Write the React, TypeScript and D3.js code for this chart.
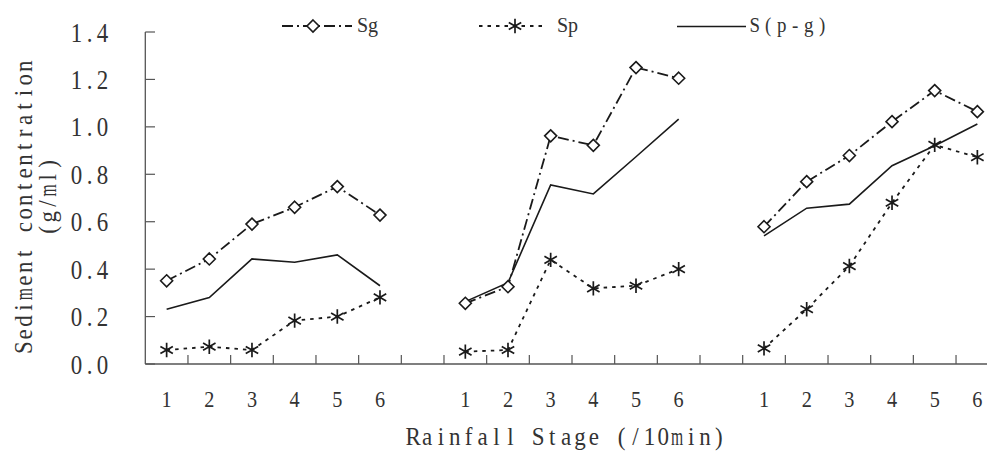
import React from "react";
import * as d3 from "d3";

const stages = ["1", "2", "3", "4", "5", "6"];
const groups = [0, 1, 2];
const yTicks = [0, 0.2, 0.4, 0.6, 0.8, 1.0, 1.2, 1.4];

const sgValues = [
  [0.351, 0.443, 0.59, 0.661, 0.748, 0.628],
  [0.256, 0.326, 0.962, 0.922, 1.25, 1.205],
  [0.579, 0.769, 0.879, 1.022, 1.153, 1.064],
];
const spValues = [
  [0.059, 0.073, 0.059, 0.183, 0.2, 0.281],
  [0.052, 0.059, 0.439, 0.319, 0.33, 0.4],
  [0.066, 0.231, 0.413, 0.68, 0.924, 0.872],
];
const sValues = [
  [0.231, 0.28, 0.443, 0.429, 0.46, 0.33],
  [0.263, 0.343, 0.755, 0.717, 0.874, 1.033],
  [0.54, 0.657, 0.674, 0.836, 0.92, 1.012],
];

const seriesNames = ["Sg", "Sp", "S(p-g)"];
const xTitle = "Rainfall Stage (/10min)";
const yTitle1 = "Sediment contentration";
const yTitle2 = "(g/ml)";

const W = 987;
const H = 459;
const slots = d3.range(20).map(String);
const x = d3.scaleBand<string>().domain(slots).range([145.3, 998.7]).padding(0);
const y = d3.scaleLinear().domain([0, 1.4]).range([364, 32]);

const slotOf = (g: number, i: number) => String(g * 7 + i);
const cx = (g: number, i: number) => (x(slotOf(g, i)) as number) + x.bandwidth() / 2;

const line = d3
  .line<[number, number]>()
  .x((d) => d[0])
  .y((d) => d[1]);

const INK = "#1a1a1a";
const AXIS = "#555";
const TXT = "#333";
const SERIF = "'Liberation Serif', 'DejaVu Serif', serif";

const WIDE = new Set(["m", "w", "M", "W"]);

// monospaced "half-width" layout of serif glyphs
function MonoText({
  text,
  x0,
  y0,
  pitch,
  fontSize,
  sx = 0.9,
  anchor = "middle",
  rotate = 0,
}: {
  text: string;
  x0: number;
  y0: number;
  pitch: number;
  fontSize: number;
  sx?: number;
  anchor?: "start" | "middle" | "end";
  rotate?: number;
}) {
  const chars = Array.from(text);
  const total = chars.length * pitch;
  const start = anchor === "middle" ? -total / 2 : anchor === "end" ? -total : 0;
  return (
    <g transform={`translate(${x0},${y0}) rotate(${rotate})`}>
      {chars.map((ch, i) =>
        ch === " " ? null : (
          <text
            key={i}
            transform={`translate(${start + (i + 0.5) * pitch},0) scale(${WIDE.has(ch) ? sx * 0.68 : sx},1)`}
            textAnchor="middle"
            fontFamily={SERIF}
            fontSize={fontSize}
            fill={TXT}
          >
            {ch}
          </text>
        )
      )}
    </g>
  );
}

function Diamond({ px, py }: { px: number; py: number }) {
  const r = 6;
  return (
    <path
      d={`M${px},${py - r}L${px + r},${py}L${px},${py + r}L${px - r},${py}Z`}
      fill="#fff"
      stroke={INK}
      strokeWidth={1.6}
    />
  );
}

function Star({ px, py }: { px: number; py: number }) {
  const r = 7.2;
  const a = r * Math.cos(Math.PI / 6);
  const b = r * Math.sin(Math.PI / 6);
  return (
    <path
      d={`M${px},${py - r}L${px},${py + r}M${px - a},${py - b}L${px + a},${py + b}M${px - a},${py + b}L${px + a},${py - b}`}
      stroke={INK}
      strokeWidth={1.7}
      fill="none"
    />
  );
}

const SG_DASH = "11,4,2,4";
const SP_DASH = "3.5,5";

export default function App() {
  const boundaries = d3.range(1, 21).map((k) => 145.3 + k * x.step());
  return (
    <svg
      width={W}
      height={H}
      style={{ position: "absolute", left: 0, top: 0, background: "#fff" }}
    >
      <rect x={0} y={0} width={W} height={H} fill="#fff" />
      {/* axes */}
      <line x1={145.3} x2={145.3} y1={y(1.4)} y2={y(0)} stroke={AXIS} strokeWidth={1.3} />
      <line x1={145.3} x2={999} y1={y(0)} y2={y(0)} stroke={AXIS} strokeWidth={1.3} />
      {yTicks.map((t) => (
        <g key={t}>
          <line x1={145.3} x2={155} y1={y(t)} y2={y(t)} stroke={AXIS} strokeWidth={1.2} />
          <MonoText
            text={t.toFixed(1)}
            x0={109}
            y0={y(t) + 9.5}
            pitch={13}
            fontSize={27}
            sx={0.85}
            anchor="end"
          />
        </g>
      ))}
      {boundaries.map((bx, k) => (
        <line key={k} x1={bx} x2={bx} y1={y(0)} y2={y(0) - 9} stroke={AXIS} strokeWidth={1.2} />
      ))}
      {groups.map((g) =>
        stages.map((s, i) => (
          <MonoText
            key={`${g}-${s}`}
            text={s}
            x0={cx(g, i)}
            y0={406.5}
            pitch={12}
            fontSize={22.5}
            sx={0.9}
          />
        ))
      )}
      {/* axis titles */}
      <MonoText text={xTitle} x0={566} y0={445} pitch={13.9} fontSize={25} sx={0.92} />
      <MonoText text={yTitle1} x0={32} y0={207} pitch={13.4} fontSize={25} sx={0.92} rotate={-90} />
      <MonoText text={yTitle2} x0={56} y0={197} pitch={13.2} fontSize={25} sx={0.92} rotate={-90} />
      {/* series */}
      {groups.map((g) => {
        const sgPts = sgValues[g].map((v, i) => [cx(g, i), y(v)] as [number, number]);
        const spPts = spValues[g].map((v, i) => [cx(g, i), y(v)] as [number, number]);
        const sPts = sValues[g].map((v, i) => [cx(g, i), y(v)] as [number, number]);
        return (
          <g key={g}>
            <path d={line(sPts) || ""} fill="none" stroke={INK} strokeWidth={1.6} />
            <path d={line(spPts) || ""} fill="none" stroke={INK} strokeWidth={1.8} strokeDasharray={SP_DASH} />
            <path d={line(sgPts) || ""} fill="none" stroke={INK} strokeWidth={1.8} strokeDasharray={SG_DASH} />
            {spPts.map((p, i) => (
              <Star key={`sp${i}`} px={p[0]} py={p[1]} />
            ))}
            {sgPts.map((p, i) => (
              <Diamond key={`sg${i}`} px={p[0]} py={p[1]} />
            ))}
          </g>
        );
      })}
      {/* legend */}
      <g>
        <line x1={282} x2={352} y1={26} y2={26} stroke={INK} strokeWidth={1.8} strokeDasharray={SG_DASH} />
        <Diamond px={313} py={26} />
        <text x={357} y={32} fontFamily={SERIF} fontSize={20} fill={TXT}>
          {seriesNames[0]}
        </text>
        <line x1={479} x2={547} y1={26} y2={26} stroke={INK} strokeWidth={1.8} strokeDasharray={SP_DASH} />
        <Star px={515} py={26} />
        <text x={557} y={32} fontFamily={SERIF} fontSize={20} fill={TXT}>
          {seriesNames[1]}
        </text>
        <line x1={677} x2={746} y1={26.5} y2={26.5} stroke={INK} strokeWidth={1.6} />
        <MonoText text={seriesNames[2]} x0={748} y0={32} pitch={13.5} fontSize={21} sx={0.9} anchor="start" />
      </g>
    </svg>
  );
}
